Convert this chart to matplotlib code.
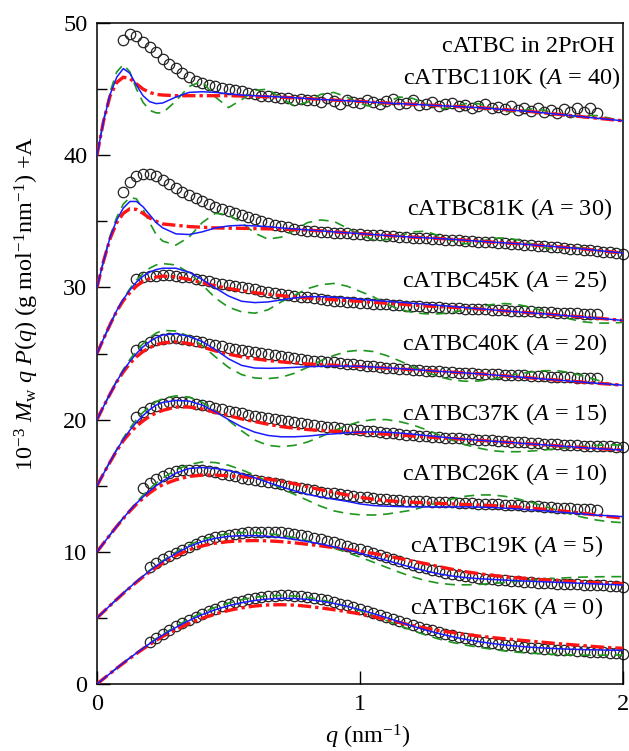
import matplotlib
matplotlib.use('Agg')
import matplotlib.pyplot as plt
import numpy as np

# ---- fonts (Times-like) ----
plt.rcParams['font.family'] = 'Liberation Serif'
plt.rcParams['mathtext.fontset'] = 'custom'
plt.rcParams['mathtext.rm'] = 'Liberation Serif'
plt.rcParams['mathtext.it'] = 'Liberation Serif:italic'
plt.rcParams['mathtext.bf'] = 'Liberation Serif:bold'
fs = 17.5

nan = float('nan')

# ---- data: raw values (offset A added at plot time) ----
samples = ['cATBC110K', 'cATBC81K', 'cATBC45K', 'cATBC40K',
           'cATBC37K', 'cATBC26K', 'cATBC19K', 'cATBC16K']
offsets = [40, 30, 25, 20, 15, 10, 5, 0]

# q grid of the model curves
q_line = [0, 0.025, 0.05, 0.075, 0.1, 0.125, 0.15, 0.175, 0.2, 0.225, 0.25,
          0.3, 0.35, 0.4, 0.45, 0.5, 0.55, 0.6, 0.65, 0.7, 0.75, 0.8, 0.85, 0.9, 0.95, 1.0,
          1.05, 1.1, 1.15, 1.2, 1.25, 1.3, 1.35, 1.4, 1.45, 1.5, 1.55, 1.6, 1.65, 1.7,
          1.75, 1.8, 1.85, 1.9, 1.95, 2.0]

# q grid of the measured points
q_dots = [0.1, 0.125, 0.15, 0.175, 0.2, 0.225, 0.25, 0.275,
          0.3, 0.325, 0.35, 0.375, 0.4, 0.425, 0.45, 0.475,
          0.5, 0.525, 0.55, 0.575, 0.6, 0.625, 0.65, 0.675,
          0.7, 0.725, 0.75, 0.775, 0.8, 0.825, 0.85, 0.875,
          0.9, 0.925, 0.95, 0.975, 1.0, 1.025, 1.05, 1.075,
          1.1, 1.125, 1.15, 1.175, 1.2, 1.225, 1.25, 1.275,
          1.3, 1.325, 1.35, 1.375, 1.4, 1.425, 1.45, 1.475,
          1.5, 1.525, 1.55, 1.575, 1.6, 1.625, 1.65, 1.675,
          1.7, 1.725, 1.75, 1.775, 1.8, 1.825, 1.85, 1.875,
          1.9, 1.925, 1.95, 1.975, 2.0]

# measured points
dots_110k = [8.7, 9.2, 9.0, 8.6, 8.2, 7.8, 7.3, 6.9,
             6.6, 6.2, 5.9, 5.6, 5.45, 5.3, 5.2, 5.05,
             5.0, 4.9, 4.85, 4.7, 4.6, 4.5, 4.45, 4.4,
             4.35, 4.3, 4.2, 4.25, 4.15, 4.2, 4.0, 4.3,
             4.1, 3.9, 4.2, 4.05, 3.95, 4.2, 4.0, 3.85,
             4.1, 4.25, 3.9, 3.95, 4.15, 3.8, 3.9, 4.05,
             3.75, 3.85, 3.95, 3.7, 3.8, 3.6, 3.75, 3.9,
             3.55, 3.65, 3.5, 3.7, 3.45, 3.55, 3.35, 3.6,
             3.3, 3.45, 3.2, 3.5, 3.25, 3.55, 3.3, 3.6,
             3.2, nan, nan, nan, nan]
dots_81k = [7.2, 8.0, 8.45, 8.6, 8.6, 8.4, 8.1, 7.8,
            7.5, 7.25, 7.0, 6.75, 6.55, 6.3, 6.1, 5.9,
            5.75, 5.6, 5.45, 5.3, 5.15, 5.0, 4.9, 4.75,
            4.65, 4.55, 4.45, 4.35, 4.3, 4.25, 4.2, 4.17,
            4.15, 4.12, 4.1, 4.07, 4.04, 4.0, 3.97, 3.94,
            3.9, 3.87, 3.84, 3.8, 3.77, 3.74, 3.71, 3.68,
            3.65, 3.62, 3.59, 3.56, 3.53, 3.5, 3.46, 3.43,
            3.4, 3.36, 3.33, 3.29, 3.26, 3.22, 3.18, 3.14,
            3.1, 3.06, 3.02, 2.98, 2.94, 2.9, 2.85, 2.8,
            2.75, 2.7, 2.65, 2.6, 2.55]
dots_45k = [nan, nan, 5.65, 5.75, 5.85, 5.9, 5.92, 5.92,
            5.88, 5.82, 5.75, 5.65, 5.55, 5.45, 5.37, 5.28,
            5.2, 5.1, 5.02, 4.93, 4.85, 4.76, 4.68, 4.6,
            4.52, 4.45, 4.38, 4.3, 4.24, 4.18, 4.12, 4.06,
            4.0, 3.95, 3.91, 3.87, 3.84, 3.81, 3.78, 3.75,
            3.72, 3.69, 3.66, 3.63, 3.6, 3.57, 3.55, 3.52,
            3.5, 3.47, 3.45, 3.42, 3.4, 3.38, 3.35, 3.33,
            3.3, 3.28, 3.26, 3.24, 3.22, 3.2, 3.18, 3.16,
            3.14, 3.12, 3.1, 3.08, 3.06, 3.04, 3.02, 3.01,
            3.0, nan, nan, nan, nan]
dots_40k = [nan, nan, 5.3, 5.6, 5.85, 6.0, 6.1, 6.15,
            6.15, 6.1, 6.05, 5.95, 5.85, 5.75, 5.65, 5.55,
            5.45, 5.37, 5.3, 5.2, 5.1, 5.02, 4.95, 4.87,
            4.8, 4.72, 4.65, 4.58, 4.52, 4.47, 4.42, 4.37,
            4.32, 4.27, 4.22, 4.17, 4.12, 4.07, 4.02, 3.98,
            3.94, 3.9, 3.86, 3.82, 3.78, 3.74, 3.71, 3.68,
            3.65, 3.62, 3.59, 3.56, 3.53, 3.5, 3.48, 3.46,
            3.44, 3.42, 3.4, 3.38, 3.36, 3.34, 3.32, 3.3,
            3.28, 3.26, 3.24, 3.22, 3.2, 3.18, 3.16, 3.14,
            3.12, nan, nan, nan, nan]
dots_37k = [nan, nan, 5.2, 5.55, 5.85, 6.05, 6.2, 6.3,
            6.35, 6.35, 6.3, 6.2, 6.1, 6.0, 5.9, 5.8,
            5.68, 5.57, 5.47, 5.37, 5.27, 5.18, 5.1, 5.02,
            4.95, 4.87, 4.8, 4.73, 4.66, 4.6, 4.53, 4.47,
            4.42, 4.37, 4.32, 4.27, 4.22, 4.17, 4.12, 4.07,
            4.02, 3.97, 3.92, 3.87, 3.82, 3.78, 3.74, 3.7,
            3.67, 3.64, 3.61, 3.58, 3.55, 3.52, 3.49, 3.46,
            3.43, 3.4, 3.37, 3.34, 3.31, 3.28, 3.25, 3.22,
            3.19, 3.16, 3.13, 3.1, 3.08, 3.06, 3.04, 3.02,
            3.0, 2.99, 2.98, 2.96, 2.95]
dots_26k = [nan, nan, nan, 4.8, 5.2, 5.5, 5.75, 5.95,
            6.1, 6.15, 6.2, 6.2, 6.15, 6.1, 6.0, 5.9,
            5.8, 5.7, 5.6, 5.5, 5.4, 5.32, 5.25, 5.18,
            5.1, 5.0, 4.9, 4.8, 4.72, 4.64, 4.56, 4.48,
            4.42, 4.36, 4.3, 4.24, 4.18, 4.12, 4.06, 4.01,
            3.97, 3.93, 3.9, 3.87, 3.85, 3.83, 3.81, 3.79,
            3.77, 3.75, 3.73, 3.71, 3.69, 3.67, 3.65, 3.63,
            3.61, 3.59, 3.57, 3.55, 3.52, 3.49, 3.46, 3.43,
            3.4, 3.37, 3.34, 3.31, 3.28, 3.25, 3.22, 3.2,
            3.18, nan, nan, nan, nan]
dots_19k = [nan, nan, nan, nan, 3.85, 4.15, 4.45, 4.7,
            4.9, 5.15, 5.4, 5.6, 5.8, 5.95, 6.1, 6.2,
            6.3, 6.37, 6.42, 6.46, 6.5, 6.52, 6.52, 6.5,
            6.47, 6.42, 6.36, 6.28, 6.18, 6.08, 5.96, 5.84,
            5.72, 5.6, 5.46, 5.32, 5.18, 5.04, 4.9, 4.75,
            4.6, 4.45, 4.3, 4.15, 4.0, 3.87, 3.75, 3.63,
            3.52, 3.42, 3.33, 3.25, 3.17, 3.1, 3.04, 2.98,
            2.93, 2.88, 2.84, 2.8, 2.76, 2.73, 2.7, 2.67,
            2.64, 2.62, 2.6, 2.58, 2.56, 2.54, 2.52, 2.5,
            2.48, 2.46, 2.43, 2.4, 2.37]
dots_16k = [nan, nan, nan, nan, 3.2, 3.5, 3.8, 4.08,
            4.35, 4.6, 4.85, 5.08, 5.3, 5.5, 5.7, 5.88,
            6.04, 6.18, 6.3, 6.4, 6.5, 6.57, 6.63, 6.67,
            6.7, 6.7, 6.68, 6.65, 6.6, 6.53, 6.45, 6.36,
            6.22, 6.08, 5.94, 5.8, 5.65, 5.5, 5.35, 5.2,
            5.05, 4.9, 4.75, 4.6, 4.45, 4.3, 4.17, 4.05,
            3.92, 3.8, 3.68, 3.57, 3.47, 3.37, 3.28, 3.2,
            3.12, 3.05, 2.98, 2.92, 2.86, 2.81, 2.76, 2.72,
            2.68, 2.64, 2.6, 2.57, 2.54, 2.51, 2.48, 2.45,
            2.42, 2.39, 2.36, 2.33, 2.3]

# model curves: blue (solid), red (dash-dot), green (dashed)
blue_110k = [0, 2.6, 4.6, 5.9, 6.55, 6.2, 5.3, 4.5, 4.05, 3.9, 3.95,
             4.4, 4.75, 4.8, 4.75, 4.65, 4.55, 4.5, 4.45, 4.4, 4.35, 4.28, 4.22, 4.17, 4.12, 4.07,
             4.0, 3.95, 3.9, 3.85, 3.8, 3.75, 3.7, 3.65, 3.6, 3.53, 3.45, 3.37, 3.3, 3.2,
             3.1, 3.0, 2.9, 2.8, 2.7, 2.6]
red_110k = [0, 2.6, 4.5, 5.5, 5.9, 5.8, 5.4, 5.0, 4.75, 4.6, 4.55,
            4.5, 4.5, 4.5, 4.5, 4.5, 4.48, 4.45, 4.42, 4.38, 4.34, 4.28, 4.22, 4.17, 4.12, 4.07,
            4.0, 3.95, 3.9, 3.85, 3.8, 3.75, 3.7, 3.65, 3.6, 3.53, 3.45, 3.37, 3.3, 3.2,
            3.1, 3.0, 2.9, 2.8, 2.7, 2.6]
green_110k = [0, 2.65, 4.8, 6.3, 6.85, 6.3, 5.0, 4.0, 3.4, 3.2, 3.2,
              4.1, 5.2, 5.6, 4.4, 3.6, 4.2, 4.9, 5.0, 4.3, 3.75, 4.0, 4.6, 4.75, 4.4, 3.9,
              3.65, 4.0, 4.4, 4.3, 3.9, 3.5, 3.6, 3.9, 3.9, 3.6, 3.3, 3.3, 3.5, 3.4,
              3.1, 2.9, 3.0, 3.0, 2.8, 2.6]

blue_81k = [0, 2.0, 3.8, 5.1, 6.0, 6.5, 6.5, 6.1, 5.5, 4.9, 4.5,
            4.05, 4.0, 4.2, 4.5, 4.65, 4.7, 4.65, 4.6, 4.5, 4.42, 4.35, 4.28, 4.2, 4.13, 4.07,
            4.0, 3.93, 3.87, 3.8, 3.75, 3.7, 3.63, 3.57, 3.5, 3.43, 3.37, 3.3, 3.22, 3.15,
            3.07, 3.0, 2.9, 2.8, 2.7, 2.6]
red_81k = [0, 2.0, 3.7, 4.9, 5.6, 5.95, 5.9, 5.6, 5.25, 5.0, 4.8,
           4.7, 4.6, 4.55, 4.5, 4.48, 4.47, 4.45, 4.43, 4.4, 4.37, 4.33, 4.28, 4.2, 4.13, 4.07,
           4.0, 3.93, 3.87, 3.8, 3.75, 3.7, 3.63, 3.57, 3.5, 3.43, 3.37, 3.3, 3.22, 3.15,
           3.07, 3.0, 2.9, 2.8, 2.7, 2.6]
green_81k = [0, 2.0, 3.9, 5.3, 6.3, 6.8, 6.7, 5.9, 4.9, 4.0, 3.5,
             3.2, 3.8, 4.9, 5.6, 5.5, 4.9, 4.1, 3.65, 3.8, 4.3, 4.9, 5.1, 5.0, 4.5, 4.0,
             3.6, 3.6, 3.9, 4.2, 4.25, 3.9, 3.5, 3.3, 3.4, 3.7, 3.75, 3.6, 3.3, 3.0,
             2.9, 3.0, 3.0, 2.8, 2.65, 2.55]

blue_45k = [0, 1.12, 2.2, 3.25, 4.1, 4.8, 5.4, 5.85, 6.15, 6.35, 6.45,
            6.45, 6.15, 5.6, 4.95, 4.35, 3.95, 3.85, 3.9, 4.05, 4.2, 4.3, 4.3, 4.25, 4.18, 4.1,
            4.02, 3.95, 3.88, 3.8, 3.72, 3.64, 3.56, 3.47, 3.39, 3.31, 3.22, 3.15, 3.07, 3.0,
            2.92, 2.84, 2.76, 2.68, 2.59, 2.5]
red_45k = [0, 1.12, 2.2, 3.2, 4.0, 4.6, 5.1, 5.45, 5.65, 5.78, 5.85,
           5.8, 5.6, 5.35, 5.12, 4.92, 4.75, 4.6, 4.48, 4.38, 4.28, 4.2, 4.13, 4.07, 4.0, 3.95,
           3.88, 3.8, 3.74, 3.67, 3.6, 3.55, 3.5, 3.44, 3.37, 3.3, 3.22, 3.15, 3.07, 3.0,
           2.92, 2.84, 2.76, 2.68, 2.59, 2.5]
green_45k = [0, 1.12, 2.2, 3.25, 4.15, 4.9, 5.55, 6.05, 6.45, 6.7, 6.8,
             6.7, 6.1, 5.2, 4.2, 3.5, 3.15, 3.05, 3.3, 3.9, 4.4, 4.9, 5.2, 5.3, 5.1, 4.7,
             4.3, 3.75, 3.35, 3.1, 3.0, 3.0, 3.1, 3.3, 3.5, 3.7, 3.78, 3.7, 3.5, 3.2,
             2.9, 2.6, 2.4, 2.3, 2.3, 2.35]

blue_40k = [0, 1.0, 1.95, 2.9, 3.7, 4.4, 5.0, 5.5, 5.9, 6.2, 6.4,
            6.5, 6.3, 5.9, 5.3, 4.6, 4.1, 3.9, 3.88, 3.9, 3.95, 4.0, 4.03, 4.05, 4.05, 4.03,
            3.98, 3.92, 3.86, 3.79, 3.72, 3.65, 3.59, 3.53, 3.47, 3.39, 3.31, 3.23, 3.15, 3.07,
            2.99, 2.91, 2.83, 2.75, 2.68, 2.6]
red_40k = [0, 1.0, 1.95, 2.85, 3.6, 4.25, 4.75, 5.15, 5.45, 5.65, 5.8,
           5.88, 5.75, 5.5, 5.2, 4.95, 4.75, 4.6, 4.47, 4.37, 4.28, 4.21, 4.16, 4.11, 4.07, 4.01,
           3.95, 3.89, 3.83, 3.77, 3.71, 3.65, 3.59, 3.53, 3.47, 3.39, 3.31, 3.23, 3.15, 3.07,
           2.99, 2.91, 2.83, 2.75, 2.68, 2.6]
green_40k = [0, 1.0, 2.0, 2.95, 3.8, 4.55, 5.2, 5.75, 6.2, 6.55, 6.75,
             6.7, 6.3, 5.6, 4.75, 3.95, 3.4, 3.15, 3.1, 3.2, 3.5, 3.95, 4.45, 4.85, 5.15, 5.25,
             5.15, 4.85, 4.45, 4.0, 3.6, 3.25, 3.0, 2.9, 2.92, 3.05, 3.25, 3.45, 3.6, 3.7,
             3.7, 3.55, 3.3, 3.0, 2.7, 2.45]

blue_37k = [0, 0.92, 1.82, 2.7, 3.5, 4.2, 4.8, 5.3, 5.75, 6.1, 6.3,
            6.45, 6.4, 6.1, 5.6, 5.0, 4.45, 4.05, 3.8, 3.7, 3.7, 3.75, 3.85, 3.92, 4.0, 4.05,
            4.07, 4.05, 3.98, 3.9, 3.8, 3.7, 3.6, 3.52, 3.44, 3.37, 3.3, 3.23, 3.16, 3.09,
            3.02, 2.95, 2.88, 2.81, 2.75, 2.7]
red_37k = [0, 0.92, 1.8, 2.65, 3.4, 4.0, 4.5, 4.9, 5.25, 5.5, 5.7,
           5.95, 5.95, 5.8, 5.55, 5.3, 5.05, 4.85, 4.65, 4.47, 4.35, 4.25, 4.18, 4.12, 4.07, 4.02,
           3.96, 3.9, 3.83, 3.76, 3.7, 3.63, 3.57, 3.5, 3.44, 3.37, 3.3, 3.23, 3.16, 3.09,
           3.02, 2.95, 2.88, 2.81, 2.75, 2.7]
green_37k = [0, 0.93, 1.85, 2.75, 3.6, 4.35, 5.0, 5.55, 6.0, 6.35, 6.6,
             6.8, 6.7, 6.3, 5.7, 4.95, 4.15, 3.45, 3.05, 2.95, 3.05, 3.3, 3.7, 4.15, 4.55, 4.85,
             5.0, 5.0, 4.85, 4.6, 4.25, 3.85, 3.45, 3.1, 2.85, 2.65, 2.57, 2.57, 2.62, 2.7,
             2.8, 2.9, 2.98, 3.05, 3.08, 3.08]

blue_26k = [0, 0.65, 1.29, 1.93, 2.55, 3.13, 3.67, 4.15, 4.6, 5.0, 5.35,
            5.95, 6.3, 6.38, 6.3, 6.15, 5.9, 5.6, 5.25, 4.92, 4.62, 4.35, 4.15, 3.98, 3.82, 3.62,
            3.5, 3.45, 3.42, 3.4, 3.4, 3.4, 3.4, 3.4, 3.38, 3.35, 3.3, 3.24, 3.17, 3.1,
            3.02, 2.94, 2.86, 2.78, 2.72, 2.66]
red_26k = [0, 0.65, 1.29, 1.92, 2.52, 3.08, 3.6, 4.05, 4.45, 4.8, 5.08,
           5.45, 5.7, 5.8, 5.8, 5.75, 5.68, 5.6, 5.5, 5.35, 5.15, 4.92, 4.7, 4.5, 4.3, 4.12,
           3.98, 3.87, 3.8, 3.75, 3.7, 3.66, 3.62, 3.58, 3.54, 3.5, 3.44, 3.38, 3.3, 3.22,
           3.12, 3.02, 2.9, 2.78, 2.66, 2.55]
green_26k = [0, 0.65, 1.3, 1.95, 2.58, 3.18, 3.75, 4.28, 4.77, 5.2, 5.58,
             6.2, 6.6, 6.8, 6.75, 6.55, 6.2, 5.8, 5.3, 4.8, 4.35, 3.9, 3.45, 3.1, 2.9, 2.8,
             2.78, 2.85, 3.0, 3.16, 3.45, 3.75, 4.0, 4.2, 4.3, 4.3, 4.2, 4.0, 3.75, 3.45,
             3.15, 2.85, 2.6, 2.4, 2.27, 2.2]

blue_19k = [0, 0.47, 0.94, 1.41, 1.87, 2.32, 2.75, 3.16, 3.55, 3.92, 4.27,
            4.88, 5.4, 5.78, 6.02, 6.17, 6.22, 6.22, 6.17, 6.08, 5.95, 5.78, 5.6, 5.38, 5.15, 4.9,
            4.63, 4.35, 4.07, 3.8, 3.55, 3.33, 3.17, 3.05, 2.97, 2.91, 2.86, 2.81, 2.77, 2.73,
            2.69, 2.65, 2.61, 2.57, 2.53, 2.49]
red_19k = [0, 0.47, 0.94, 1.4, 1.85, 2.28, 2.7, 3.1, 3.47, 3.82, 4.15,
           4.7, 5.15, 5.45, 5.65, 5.77, 5.83, 5.85, 5.83, 5.77, 5.68, 5.57, 5.45, 5.32, 5.18, 5.04,
           4.88, 4.7, 4.5, 4.3, 4.1, 3.88, 3.68, 3.5, 3.35, 3.22, 3.12, 3.03, 2.95, 2.88,
           2.82, 2.76, 2.71, 2.66, 2.63, 2.6]
green_19k = [0, 0.47, 0.95, 1.42, 1.88, 2.34, 2.78, 3.2, 3.6, 3.98, 4.33,
             4.97, 5.52, 5.93, 6.2, 6.37, 6.45, 6.45, 6.38, 6.25, 6.07, 5.84, 5.58, 5.28, 4.95, 4.6,
             4.22, 3.83, 3.45, 3.1, 2.82, 2.62, 2.52, 2.5, 2.53, 2.6, 2.68, 2.77, 2.86, 2.94,
             3.0, 3.05, 3.09, 3.11, 3.12, 3.12]

blue_16k = [0, 0.4, 0.8, 1.2, 1.59, 1.97, 2.34, 2.7, 3.05, 3.38, 3.7,
            4.28, 4.8, 5.25, 5.62, 5.92, 6.15, 6.32, 6.43, 6.48, 6.47, 6.4, 6.27, 6.1, 5.88, 5.62,
            5.33, 5.02, 4.7, 4.38, 4.08, 3.82, 3.58, 3.38, 3.21, 3.07, 2.95, 2.86, 2.78, 2.72,
            2.67, 2.63, 2.6, 2.58, 2.56, 2.55]
red_16k = [0, 0.4, 0.8, 1.19, 1.57, 1.94, 2.3, 2.65, 2.98, 3.3, 3.6,
           4.12, 4.58, 4.97, 5.3, 5.56, 5.76, 5.9, 5.98, 6.0, 5.97, 5.88, 5.76, 5.62, 5.47, 5.3,
           5.1, 4.88, 4.65, 4.42, 4.22, 4.05, 3.9, 3.76, 3.63, 3.52, 3.42, 3.33, 3.24, 3.15,
           3.06, 2.98, 2.9, 2.82, 2.75, 2.7]
green_16k = [0, 0.4, 0.8, 1.2, 1.6, 1.98, 2.36, 2.73, 3.09, 3.43, 3.76,
             4.37, 4.92, 5.4, 5.8, 6.12, 6.38, 6.56, 6.67, 6.7, 6.66, 6.55, 6.38, 6.15, 5.87, 5.54,
             5.18, 4.8, 4.42, 4.05, 3.7, 3.4, 3.15, 2.95, 2.78, 2.63, 2.5, 2.4, 2.33, 2.27,
             2.23, 2.2, 2.18, 2.17, 2.18, 2.2]

dots = [dots_110k, dots_81k, dots_45k, dots_40k, dots_37k, dots_26k, dots_19k, dots_16k]
blue = [blue_110k, blue_81k, blue_45k, blue_40k, blue_37k, blue_26k, blue_19k, blue_16k]
red = [red_110k, red_81k, red_45k, red_40k, red_37k, red_26k, red_19k, red_16k]
green = [green_110k, green_81k, green_45k, green_40k, green_37k, green_26k, green_19k, green_16k]

# label placement (right edge q, baseline y)
label_pos = [(1.99, 45.4), (1.96, 35.5), (1.94, 30.0), (1.94, 25.3),
             (1.94, 20.0), (1.94, 15.4), (1.925, 10.0), (1.925, 5.3)]

# ---- plot ----
fig = plt.figure(figsize=(6.29, 7.51), dpi=100)
ax = fig.add_axes([97 / 629, 1 - 684 / 751, 526 / 629, 661 / 751])

for i, name in enumerate(samples):
    A = offsets[i]
    ax.plot(q_dots, np.array(dots[i]) + A, 'o', ms=7.5, mfc='none', mec='#222222',
            mew=0.9, clip_on=False, zorder=2)
    ax.plot(q_line, np.array(green[i]) + A, color='#1f961f', lw=1.2,
            ls=(0, (6, 4)), zorder=3)
    ax.plot(q_line, np.array(red[i]) + A, color='#ff1414', lw=2.4,
            ls=(0, (4, 1.2, 1, 1.2)), zorder=4)
    ax.plot(q_line, np.array(blue[i]) + A, color='#1a1aff', lw=1.1, zorder=5)
    x, y = label_pos[i]
    ax.text(x, y, f'{name} ($A$ = {A})', ha='right', va='baseline', fontsize=fs)

ax.text(1.97, 47.8, 'cATBC in 2PrOH', ha='right', va='baseline', fontsize=fs)

ax.set_xlim(0, 2)
ax.set_ylim(0, 50)
ax.set_xticks([0, 1, 2])
ax.set_yticks([0, 10, 20, 30, 40, 50])
ax.set_yticks([5, 15, 25, 35, 45], minor=True)
ax.tick_params(which='both', direction='in', top=False, right=False,
               labelsize=fs, width=1)
ax.tick_params(which='major', length=9.5, pad=7)
ax.tick_params(which='minor', length=7)
for s in ax.spines.values():
    s.set_linewidth(1.1)

fig.text(27 / 629, 1 - 303 / 751,
         r'10$^{-3}$ $M_{\rm w}$ $q$ $P$($q$) (g mol$^{-1}$nm$^{-1}$) +A',
         rotation=90, ha='center', va='center', fontsize=fs)
fig.text(368 / 629, 1 - 737 / 751, r'$q$ (nm$^{-1}$)', ha='center', va='center',
         fontsize=fs)

fig.savefig('out.png', dpi=100)
